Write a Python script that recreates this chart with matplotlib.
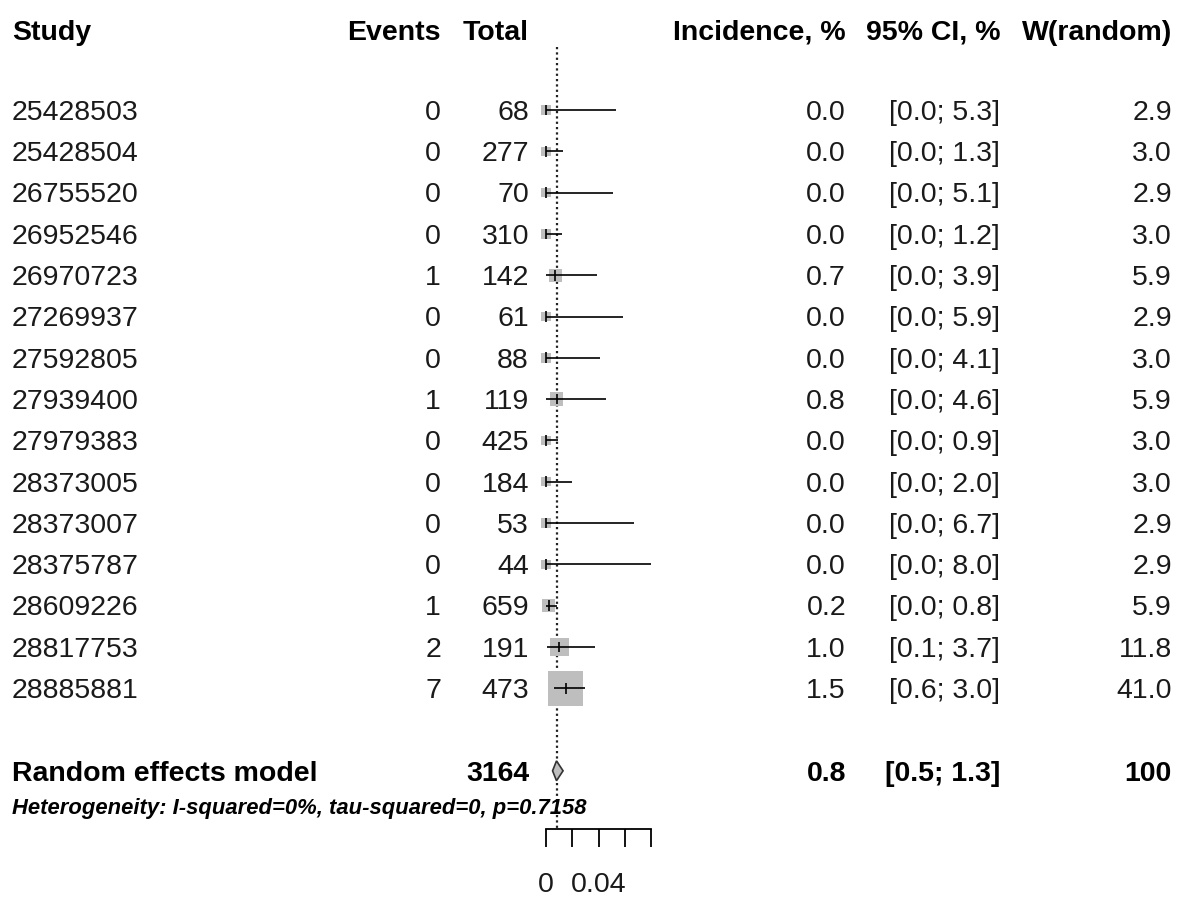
import matplotlib.pyplot as plt
import matplotlib.transforms as mtransforms
import numpy as np

# study data
studies = ['25428503', '25428504', '26755520', '26952546', '26970723',
           '27269937', '27592805', '27939400', '27979383', '28373005',
           '28373007', '28375787', '28609226', '28817753', '28885881']
events = [0, 0, 0, 0, 1, 0, 0, 1, 0, 0, 0, 0, 1, 2, 7]
totals = [68, 277, 70, 310, 142, 61, 88, 119, 425, 184, 53, 44, 659, 191, 473]
incidence = [0.0, 0.0, 0.0, 0.0, 0.7, 0.0, 0.0, 0.8, 0.0, 0.0, 0.0, 0.0, 0.2, 1.0, 1.5]
ci_low = [0.0, 0.0, 0.0, 0.0, 0.0, 0.0, 0.0, 0.0, 0.0, 0.0, 0.0, 0.0, 0.0, 0.1, 0.6]
ci_high = [5.3, 1.3, 5.1, 1.2, 3.9, 5.9, 4.1, 4.6, 0.9, 2.0, 6.7, 8.0, 0.8, 3.7, 3.0]
weights = [2.9, 3.0, 2.9, 3.0, 5.9, 2.9, 3.0, 5.9, 3.0, 3.0, 2.9, 2.9, 5.9, 11.8, 41.0]

pooled_label = 'Random effects model'
pooled_total = 3164
pooled_est = 0.8
pooled_low = 0.5
pooled_high = 1.3
pooled_weight = 100
het_text = 'Heterogeneity: I-squared=0%, tau-squared=0, p=0.7158'

axis_ticks = [0, 0.02, 0.04, 0.06, 0.08]
axis_labels = ['0', '', '0.04', '', '']

W, H = 1178, 897
plt.rcParams['font.family'] = ['Liberation Sans', 'DejaVu Sans']
fig = plt.figure(figsize=(W / 100, H / 100), dpi=100)
ax = fig.add_axes([0, 0, 1, 1])

# x: proportion scale, 0 at px 546, 0.08 at px 651
x0_px = 546.0
px_per_unit = 105.0 / 0.08
ax.set_xlim(-x0_px / px_per_unit, (W - x0_px) / px_per_unit)
# y: row numbers, row 1 at px 110, row step 41.3 px
y1_px = 110.0
row_px = 41.3
ax.set_ylim(1 + (H - y1_px) / row_px, 1 - y1_px / row_px)
ax.axis('off')

rows = np.arange(1, len(studies) + 1)
pooled_row = 17.0
het_row = 17.85
axis_row = 18.4
fs = 20.5
yoff = 0.07  # text sits a little low against the marks
ink = '#1a1a1a'

est = np.array(incidence) / 100
lo = np.array(ci_low) / 100
hi = np.array(ci_high) / 100

# reference (pooled estimate) line
ax.plot([pooled_est / 100, pooled_est / 100], [-0.53, axis_row],
        color='#222222', lw=1.6, linestyle=(0, (1, 1.4)), zorder=1)

# weighted squares
side_px = 35 * np.sqrt(np.array(weights) / max(weights))
ax.scatter(est, rows, s=(side_px * 0.72) ** 2, marker='s',
           color='#bebebe', edgecolor='none', zorder=2)

# confidence intervals and estimate ticks
ax.hlines(rows, lo, hi, color='black', lw=1.2, zorder=3)
ax.vlines(est, rows - 0.13, rows + 0.13, color='black', lw=1.2, zorder=3)

# diamond for pooled
dh = 0.24
ax.fill([pooled_low / 100, pooled_est / 100, pooled_high / 100, pooled_est / 100],
        [pooled_row, pooled_row - dh, pooled_row, pooled_row + dh],
        facecolor='#bebebe', edgecolor='#333333', lw=1.2, zorder=3)

# bottom axis
ax.plot([axis_ticks[0], axis_ticks[-1]], [axis_row, axis_row], color='black', lw=1.3)
ax.vlines(axis_ticks, axis_row, axis_row + 0.45, color='black', lw=1.3)
for t, lab in zip(axis_ticks, axis_labels):
    if lab:
        ax.text(t, axis_row + 1.3 + yoff, lab, ha='center', va='center',
                fontsize=fs, color=ink)

# text columns
trans = mtransforms.blended_transform_factory(fig.transFigure, ax.transData)
col_study = 12 / W
col_events = 441 / W
col_total = 529 / W
col_inc = 846 / W
col_ci = 1000 / W
col_w = 1172 / W

header_row = 1 - (y1_px - 30) / row_px
headers = [(col_study, 'left', 'Study'), (col_events, 'right', 'Events'),
           (col_total, 'right', 'Total'), (col_inc, 'right', 'Incidence, %'),
           (col_ci, 'right', '95% CI, %'), (col_w, 'right', 'W(random)')]
for x, ha, txt in headers:
    ax.text(x, header_row + yoff, txt, ha=ha, va='center', fontsize=fs,
            fontweight='bold', transform=trans)

for i, r in enumerate(rows):
    cells = [(col_study, 'left', studies[i]),
             (col_events, 'right', str(events[i])),
             (col_total, 'right', str(totals[i])),
             (col_inc, 'right', '%.1f' % incidence[i]),
             (col_ci, 'right', '[%.1f; %.1f]' % (ci_low[i], ci_high[i])),
             (col_w, 'right', '%.1f' % weights[i])]
    for x, ha, txt in cells:
        ax.text(x, r + yoff, txt, ha=ha, va='center', fontsize=fs,
                color=ink, transform=trans)

pooled_cells = [(col_study, 'left', pooled_label),
                (col_total, 'right', str(pooled_total)),
                (col_inc, 'right', '%.1f' % pooled_est),
                (col_ci, 'right', '[%.1f; %.1f]' % (pooled_low, pooled_high)),
                (col_w, 'right', str(pooled_weight))]
for x, ha, txt in pooled_cells:
    ax.text(x, pooled_row + yoff, txt, ha=ha, va='center', fontsize=fs,
            fontweight='bold', transform=trans)

ax.text(col_study, het_row + yoff, het_text, ha='left', va='center', fontsize=15.8,
        fontweight='bold', fontstyle='italic', transform=trans)

fig.savefig('out.png', dpi=100)
